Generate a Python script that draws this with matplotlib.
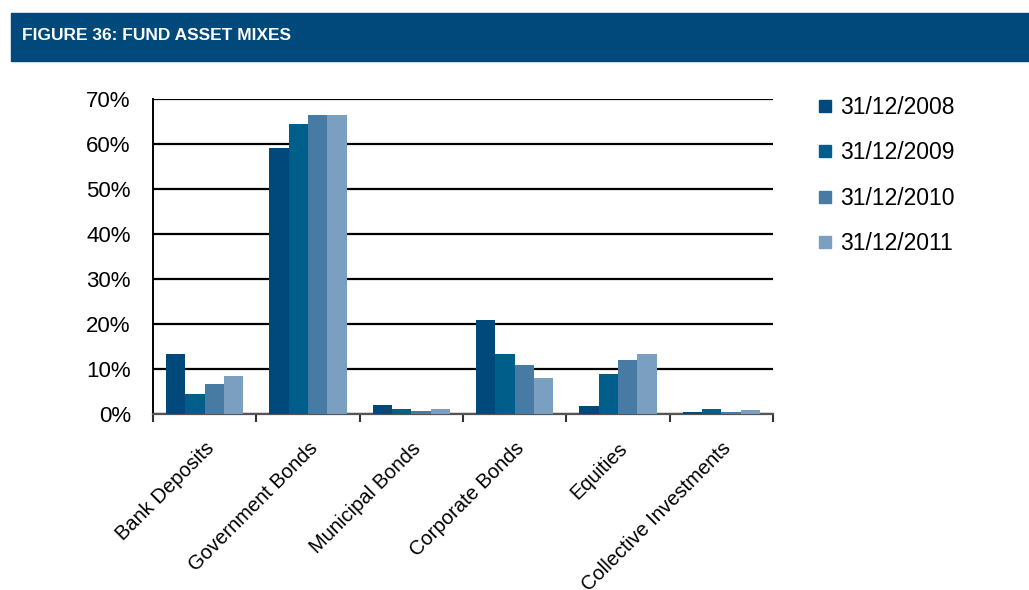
import numpy as np
import matplotlib.pyplot as plt
from matplotlib.patches import Rectangle
from matplotlib.lines import Line2D

plt.rcParams['font.family'] = ['Liberation Sans', 'DejaVu Sans']

# Asset classes and year-end allocations (% of fund assets)
categories = ["Bank Deposits", "Government Bonds", "Municipal Bonds",
              "Corporate Bonds", "Equities", "Collective Investments"]
years = ["31/12/2008", "31/12/2009", "31/12/2010", "31/12/2011"]
mix_2008 = [13.3, 59.1, 2.0, 21.0, 1.8, 0.5]
mix_2009 = [4.4, 64.4, 1.1, 13.4, 8.9, 1.2]
mix_2010 = [6.7, 66.4, 0.7, 10.9, 12.0, 0.5]
mix_2011 = [8.4, 66.4, 1.1, 8.0, 13.4, 0.9]
series = [mix_2008, mix_2009, mix_2010, mix_2011]
colors = ["#00497A", "#005E8A", "#477BA3", "#7B9FC1"]

fig = plt.figure(figsize=(10.29, 5.9), dpi=100)

# header band
fig.patches.append(Rectangle((11 / 1029, 1 - 61 / 590), 1, 48 / 590,
                             transform=fig.transFigure, color="#00497A", zorder=0))
fig.text(22 / 1029, 1 - 36 / 590, "FIGURE 36: FUND ASSET MIXES", color="white",
         fontsize=12.5, fontweight="bold", va="center", ha="left")

ax = fig.add_axes([153 / 1029, 1 - 414 / 590, 620 / 1029, 315 / 590])

x = np.arange(len(categories))
width = 0.1875
for i, (vals, c) in enumerate(zip(series, colors)):
    ax.bar(x + (i - 1.5) * width, vals, width, color=c, label=years[i], zorder=3)

ax.set_xlim(-0.5, len(categories) - 0.5)
ax.set_ylim(0, 70)
ax.set_yticks(np.arange(0, 71, 10))
ax.set_yticklabels([f"{v}%" for v in range(0, 71, 10)], fontsize=16)
ax.yaxis.grid(True, color="black", linewidth=1.6, zorder=1)
ax.tick_params(axis="y", length=0, pad=16)

# category ticks sit between groups, labels at group centres
ax.set_xticks(np.arange(-0.5, len(categories)), minor=False)
ax.set_xticklabels([])
ax.set_xticks(x, minor=True)
ax.set_xticklabels(categories, minor=True, rotation=45, ha="right",
                   rotation_mode="anchor", fontsize=14.5)
ax.tick_params(axis="x", which="major", length=6, width=1.5, color="#333333", direction="out")
ax.tick_params(axis="x", which="minor", length=0, pad=18)

for s in ["top", "right"]:
    ax.spines[s].set_visible(False)
ax.spines["left"].set_linewidth(1.4)
ax.spines["bottom"].set_color("#555555")
ax.spines["bottom"].set_linewidth(1.6)

handles = [Line2D([], [], marker="s", linestyle="none", markersize=9,
                  markerfacecolor=c, markeredgecolor=c) for c in colors]
fig.legend(handles, years, loc="upper left", bbox_to_anchor=(793 / 1029, 1 - 75 / 590),
           frameon=False, fontsize=16.5, handletextpad=0.15, labelspacing=0.98,
           handlelength=1.0)

fig.savefig("out.png", dpi=100)
